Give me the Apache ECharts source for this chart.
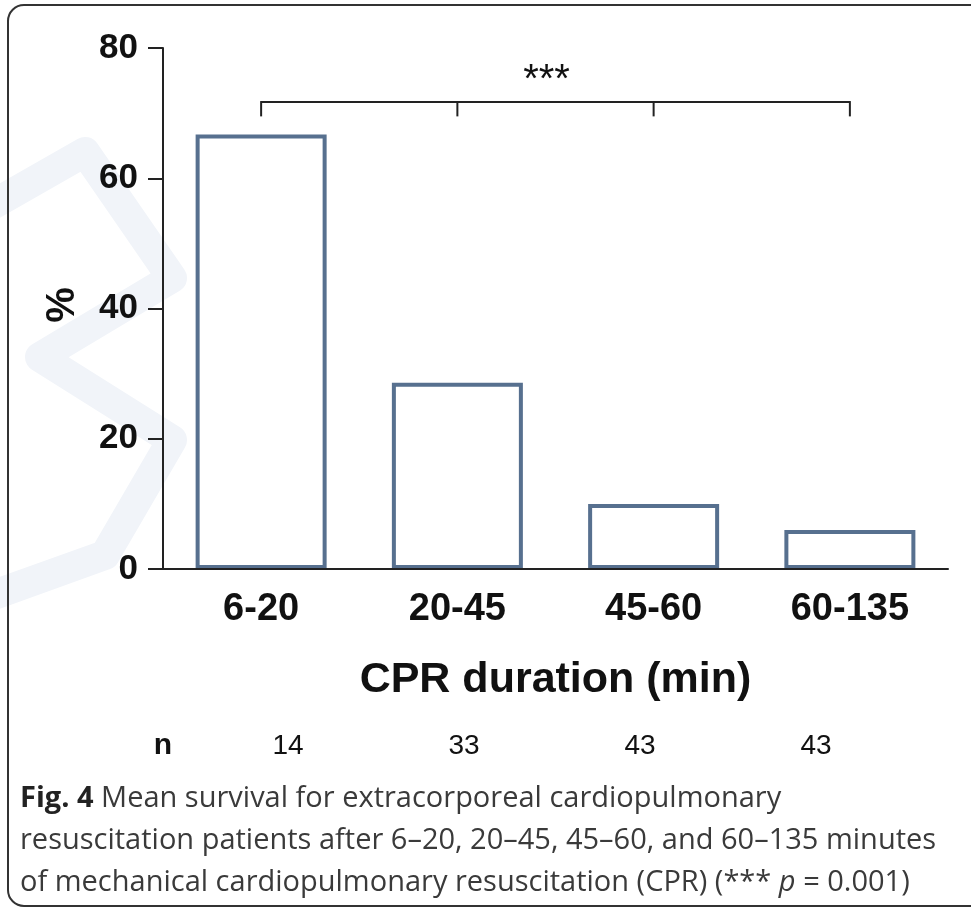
<!DOCTYPE html>
<html>
<head>
  <meta charset="utf-8">
  <title>Survival by CPR duration</title>
  <script src="https://cdn.jsdelivr.net/npm/echarts@6/dist/echarts.min.js"></script>
</head>
<body style="margin: 0; background: #fff">
  <div id="main" style="width: 971px; height: 911px"></div>

  <script>
    // data
    const categories = ['6-20', '20-45', '45-60', '60-135'];
    const survival = [66.7, 28.6, 10.0, 6.0];
    const nPatients = [14, 33, 43, 43];
    const bracketLevel = [71.7, 69.5]; // top line, foot of the ticks
    const starLabel = '***';

    const chart = echarts.init(document.getElementById('main'));
    const ink = '#222';
    const chartFont = '"Liberation Sans", Arial, sans-serif';
    const captionFont = '"Open Sans", sans-serif';

    // "n" row under the axis title
    const nRow = [{
      type: 'text', x: 163, y: 746,
      style: { text: 'n', fontFamily: chartFont, fontWeight: 'bold', fontSize: 30, fill: '#111', textAlign: 'center', textVerticalAlign: 'middle' }
    }].concat(nPatients.map((n, i) => ({
      type: 'text', x: 288 + i * 176, y: 746,
      style: { text: String(n), fontFamily: chartFont, fontSize: 28, fill: '#111', textAlign: 'center', textVerticalAlign: 'middle' }
    })));

    chart.setOption({
      animation: false,
      grid: { left: 163, right: 23, top: 48, bottom: 342 },
      xAxis: {
        type: 'category',
        data: categories,
        z: 5,
        axisLine: { lineStyle: { color: ink, width: 2 } },
        axisTick: { alignWithLabel: true, length: 14, lineStyle: { color: ink, width: 2 } },
        axisLabel: { fontFamily: chartFont, fontWeight: 'bold', fontSize: 38, color: '#111', margin: 22 },
        name: 'CPR duration (min)',
        nameLocation: 'middle',
        nameGap: 90,
        nameTextStyle: { fontFamily: chartFont, fontWeight: 'bold', fontSize: 43, color: '#111' }
      },
      yAxis: {
        type: 'value',
        min: 0, max: 80, interval: 20,
        z: 5,
        splitLine: { show: false },
        axisLine: { show: true, lineStyle: { color: ink, width: 2 } },
        axisTick: { show: true, length: 15, lineStyle: { color: ink, width: 2 } },
        axisLabel: { fontFamily: chartFont, fontWeight: 'bold', fontSize: 35, color: '#111', margin: 25 }
      },
      series: [
        {
          type: 'bar',
          data: survival,
          barWidth: 131,
          itemStyle: { color: '#fff', borderColor: '#57708f', borderWidth: 4 }
        },
        {
          // significance bracket
          type: 'custom',
          data: [[0, bracketLevel[0]]],
          encode: { x: 0, y: 1 },
          z: 6,
          renderItem: (params, api) => {
            const line = { stroke: ink, lineWidth: 2 };
            const a = api.coord([0, bracketLevel[0]]);
            const b = api.coord([categories.length - 1, bracketLevel[0]]);
            const children = [{ type: 'line', shape: { x1: a[0], y1: a[1], x2: b[0], y2: b[1] }, style: line }];
            categories.forEach((c, i) => {
              const top = api.coord([i, bracketLevel[0]]);
              const foot = api.coord([i, bracketLevel[1]]);
              children.push({ type: 'line', shape: { x1: top[0], y1: top[1] - 1, x2: foot[0], y2: foot[1] }, style: line });
            });
            const m1 = api.coord([1, bracketLevel[0]]);
            const m2 = api.coord([2, bracketLevel[0]]);
            children.push({
              type: 'text', x: (m1[0] + m2[0]) / 2 - 9, y: m1[1] - 21,
              style: { text: starLabel, fontFamily: chartFont, fontSize: 40, fill: '#111', textAlign: 'center', textVerticalAlign: 'middle' }
            });
            return { type: 'group', children };
          }
        }
      ],
      graphic: [
        // faint watermark on the left
        {
          type: 'polyline', z: -10, silent: true,
          shape: { points: [[-20, 212], [85, 152], [172, 278], [40, 357], [172, 440], [105, 555], [-20, 600]] },
          style: { stroke: '#f1f4f9', lineWidth: 30, fill: null, lineJoin: 'round', lineCap: 'round' }
        },
        // figure frame
        {
          type: 'rect', z: 10, silent: true,
          shape: { x: 8, y: 5, width: 990, height: 901, r: 16 },
          style: { fill: null, stroke: '#333', lineWidth: 2 }
        },
        // y axis title
        {
          type: 'text', x: 63, y: 305, rotation: Math.PI / 2,
          style: { text: '%', fontFamily: chartFont, fontWeight: 'bold', fontSize: 40, fill: '#111', textAlign: 'center', textVerticalAlign: 'middle' }
        },
        ...nRow,
        // caption
        {
          type: 'text', x: 20, y: 778,
          style: {
            text: '{b|Fig. 4} Mean survival for extracorporeal cardiopulmonary\n' +
                  'resuscitation patients after 6–20, 20–45, 45–60, and 60–135 minutes\n' +
                  'of mechanical cardiopulmonary resuscitation (CPR) (*** {i|p} = 0.001)',
            fontFamily: captionFont, fontSize: 29, lineHeight: 42, fill: '#3a3a3a',
            rich: {
              b: { fontFamily: captionFont, fontWeight: 'bold', fontSize: 29, lineHeight: 42, fill: '#222' },
              i: { fontFamily: captionFont, fontStyle: 'italic', fontSize: 29, lineHeight: 42, fill: '#3a3a3a' }
            }
          }
        }
      ]
    });
  </script>
</body>
</html>
